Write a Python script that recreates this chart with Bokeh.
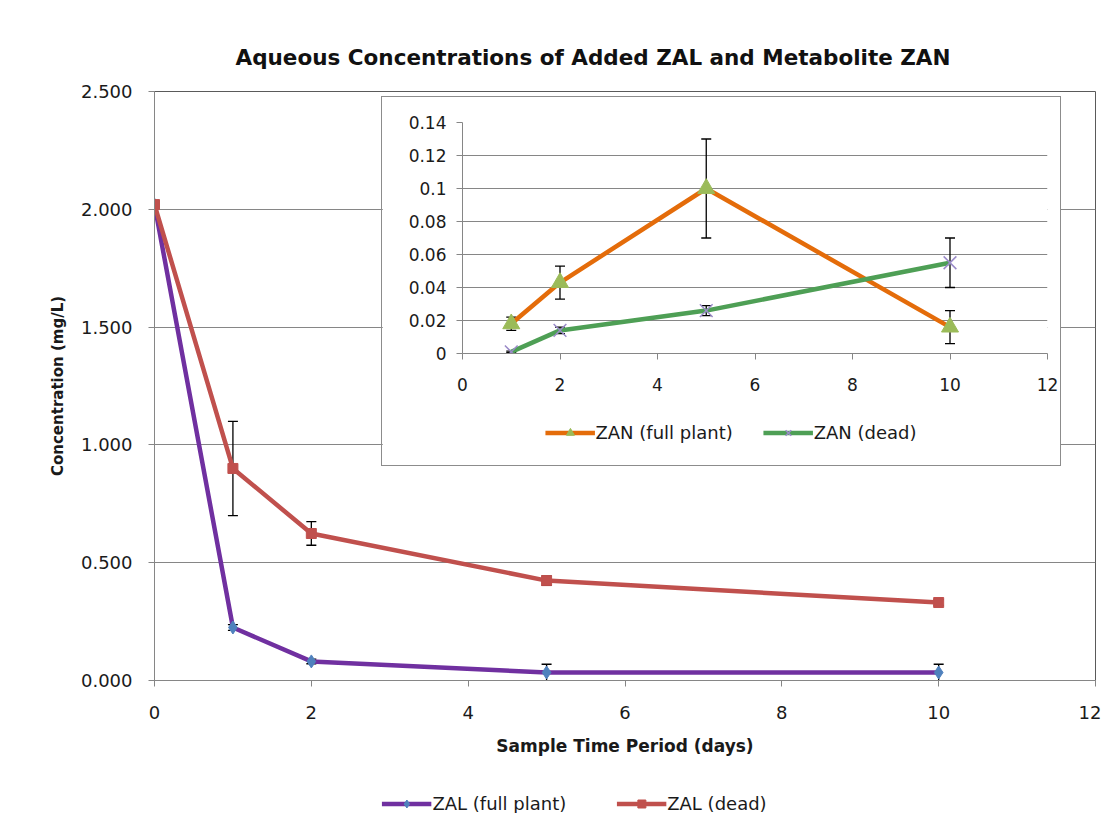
from bokeh.plotting import figure
from bokeh.models import (Range1d, Whisker, ColumnDataSource, NumeralTickFormatter,
                          FixedTicker, Legend, LegendItem, GridBox, TeeHead)
from bokeh.embed import file_html
from bokeh.resources import INLINE

# ---------------- data ----------------
days = [0, 1, 2, 5, 10]
zal_full = [2.02, 0.225, 0.081, 0.034, 0.034]
zal_full_err = [0.0, 0.012, 0.010, 0.035, 0.035]
zal_dead = [2.02, 0.90, 0.624, 0.424, 0.331]
zal_dead_err = [0.0, 0.20, 0.05, 0.02, 0.012]

zan_days = [1, 2, 5, 10]
zan_full = [0.018, 0.043, 0.100, 0.016]
zan_full_err = [0.004, 0.010, 0.030, 0.010]
zan_dead = [0.001, 0.014, 0.026, 0.055]
zan_dead_err = [0.0005, 0.002, 0.003, 0.015]

main_xticks = [0, 2, 4, 6, 8, 10, 12]
main_yticks = [0, 0.5, 1.0, 1.5, 2.0, 2.5]
inset_xticks = [0, 2, 4, 6, 8, 10, 12]
inset_yticks = [0, 0.02, 0.04, 0.06, 0.08, 0.10, 0.12, 0.14]

series_names = ["ZAL (full plant)", "ZAL (dead)", "ZAN (full plant)", "ZAN (dead)"]

FONT = "DejaVu Sans"
GRID = "#868686"
NAN = float("nan")

STYLE = {
    "ZAL (full plant)": dict(line="#7030A0", marker="diamond", msize=13, fill="#4F81BD", mline="#4F81BD", mw=1),
    "ZAL (dead)": dict(line="#C0504D", marker="square", msize=10, fill="#C0504D", mline="#C0504D", mw=1),
    "ZAN (full plant)": dict(line="#E46C0A", marker="triangle", msize=17, fill="#9BBB59", mline="#9BBB59", mw=1),
    "ZAN (dead)": dict(line="#4E9F55", marker="x", msize=18, fill=None, mline="#9A8AC8", mw=1.5),
}


def style_axes(fig, size):
    for ax in (fig.xaxis[0], fig.yaxis[0]):
        ax.axis_line_color = GRID
        ax.major_tick_line_color = GRID
        ax.major_tick_out = 6
        ax.major_tick_in = 0
        ax.minor_tick_line_color = None
        ax.major_label_text_font = FONT
        ax.major_label_text_font_size = size
        ax.major_label_text_color = "#1a1a1a"
    fig.xgrid.grid_line_color = None
    fig.ygrid.grid_line_color = GRID


def whisker(fig, xs, ys, errs):
    src = ColumnDataSource(dict(x=xs, upper=[y + e for y, e in zip(ys, errs)],
                                lower=[y - e for y, e in zip(ys, errs)]))
    w = Whisker(source=src, base="x", upper="upper", lower="lower",
                line_color="black", line_width=1.3,
                upper_head=TeeHead(size=10, line_color="black", line_width=1.3),
                lower_head=TeeHead(size=10, line_color="black", line_width=1.3))
    fig.add_layout(w)


def series(fig, name, xs, ys):
    s = STYLE[name]
    fig.line(xs, ys, line_color=s["line"], line_width=4.5)
    fig.scatter(xs, ys, marker=s["marker"], size=s["msize"], fill_color=s["fill"],
                line_color=s["mline"], line_width=s["mw"])


def legend_fig(width, height, names, spacing):
    f = figure(width=width, height=height, sizing_mode="fixed", min_border=0,
               x_axis_type=None, y_axis_type=None, x_range=Range1d(0, 1), y_range=Range1d(0, 1),
               output_backend="svg", toolbar_location=None,
               background_fill_alpha=0, border_fill_alpha=0)
    f.outline_line_color = None
    f.grid.visible = False
    items = []
    for n in names:
        s = STYLE[n]
        # legend proxies only: a single NaN point is never drawn in the plot area
        r1 = f.line(x=[NAN], y=[NAN], line_color=s["line"], line_width=4.5)
        r2 = f.scatter(x=[NAN], y=[NAN], marker=s["marker"], size=min(s["msize"], 14),
                       fill_color=s["fill"], line_color=s["mline"], line_width=s["mw"])
        items.append(LegendItem(label=n, renderers=[r1, r2]))
    lg = Legend(items=items, orientation="horizontal", location="center")
    lg.border_line_color = None
    lg.background_fill_alpha = 0
    lg.label_text_font = FONT
    lg.label_text_font_size = "18px"
    lg.label_text_color = "#1a1a1a"
    lg.glyph_width = 50
    lg.label_standoff = 1
    lg.spacing = spacing
    lg.padding = 0
    lg.margin = 0
    f.add_layout(lg, "center")
    return f

# ---------------- main figure ----------------
p = figure(width=1101, height=833, sizing_mode="fixed",
           min_border_left=154, min_border_right=6, min_border_top=91, min_border_bottom=153,
           x_range=Range1d(0, 12), y_range=Range1d(0, 2.5),
           output_backend="svg", toolbar_location=None,
           background_fill_color="white", border_fill_color="white")
p.outline_line_color = "#5a5a5a"
p.title.text = "Aqueous Concentrations of Added ZAL and Metabolite ZAN"
p.title.text_font = FONT
p.title.text_font_size = "21.5px"
p.title.text_font_style = "bold"
p.title.text_color = "#111111"
p.title.align = "left"
p.title.offset = 81
p.title.standoff = 43

style_axes(p, "18px")
p.xaxis.ticker = FixedTicker(ticks=main_xticks)
p.yaxis.ticker = FixedTicker(ticks=main_yticks)
p.yaxis.formatter = NumeralTickFormatter(format="0.000")
p.xaxis.major_label_standoff = 19
p.yaxis.major_label_standoff = 16
p.xaxis.axis_label = "Sample Time Period (days)"
p.yaxis.axis_label = "Concentration (mg/L)"
for ax in (p.xaxis[0], p.yaxis[0]):
    ax.axis_label_text_font = FONT
    ax.axis_label_text_font_style = "bold"
    ax.axis_label_text_color = "#1a1a1a"
p.xaxis.axis_label_text_font_size = "17px"
p.yaxis.axis_label_text_font_size = "15px"
p.xaxis.axis_label_standoff = 14
p.yaxis.axis_label_standoff = 11

whisker(p, days[1:], zal_full[1:], zal_full_err[1:])
whisker(p, days[1:], zal_dead[1:], zal_dead_err[1:])
series(p, series_names[0], days, zal_full)
series(p, series_names[1], days, zal_dead)

# ---------------- inset figure ----------------
q = figure(width=678, height=368, sizing_mode="fixed",
           min_border_left=80, min_border_right=13, min_border_top=25, min_border_bottom=112,
           x_range=Range1d(0, 12), y_range=Range1d(0, 0.14),
           output_backend="svg", toolbar_location=None,
           background_fill_color="white", border_fill_color="white",
           styles={"outline": "1px solid #8c8c8c"})
q.outline_line_color = None
q.title.visible = False
style_axes(q, "17px")
q.xaxis.ticker = FixedTicker(ticks=inset_xticks)
q.yaxis.ticker = FixedTicker(ticks=inset_yticks)
q.yaxis.formatter = NumeralTickFormatter(format="0.[00]")
q.xaxis.major_label_standoff = 18
q.yaxis.major_label_standoff = 10

whisker(q, zan_days, zan_full, zan_full_err)
whisker(q, zan_days, zan_dead, zan_dead_err)
series(q, series_names[2], zan_days, zan_full)
series(q, series_names[3], zan_days, zan_dead)

# ---------------- legends (own small canvases, centred where the reference has them) ----------------
pl = legend_fig(1048, 60, series_names[:2], 50)   # spans x 53..1101 -> centre 577, y 773..833
ql = legend_fig(646, 34, series_names[2:], 30)    # spans x 414..1060 -> centre 737

grid = GridBox(children=[(p, 0, 0, 6, 5), (q, 1, 2, 3, 2), (ql, 2, 3, 1, 1), (pl, 5, 1, 1, 4)],
               cols=["53px", "329px", "32px", "646px", "41px"],
               rows=["97px", "318px", "34px", "16px", "308px", "60px"],
               sizing_mode="fixed", width=1101, height=833)

open("out.html", "w").write(file_html(grid, INLINE))
